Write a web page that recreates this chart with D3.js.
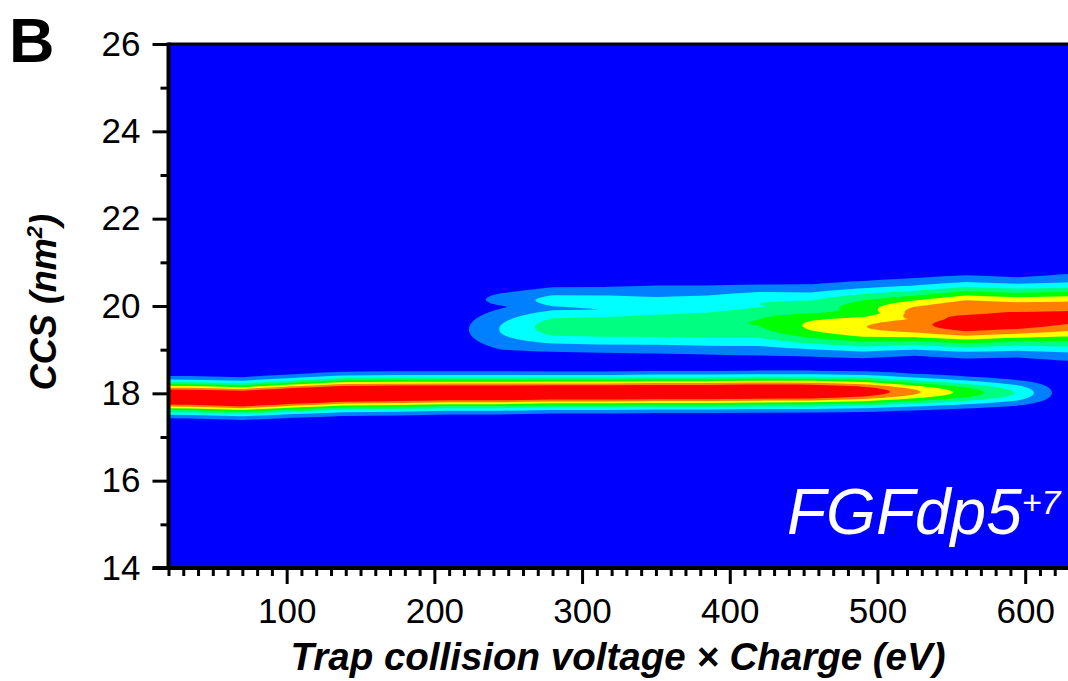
<!DOCTYPE html>
<html>
<head>
<meta charset="utf-8">
<script src="https://cdn.jsdelivr.net/npm/d3@7"></script>
<style>
	body { margin:0; background:#fff; }
	text { font-family:'Liberation Sans', Arial, sans-serif; }
</style>
</head>
<body>
<svg id="chart" width="1068" height="681"></svg>
<script>
// collision voltage x charge (eV), one column of the CIU map each
var voltages = [0,35,70,105,140,175,210,245,280,315,350,385,420,455,490,525,560,595,630]

// compact conformer (~18 nm2): centre CCS, peak height (in contour levels), width
var foldedCCS   = [17.92,17.91,17.88,17.94,17.99,18.00,18.01,18.01,18.02,18.02,18.03,18.03,18.04,18.04,18.04,18.03,18.02,18.01,18.00]
var foldedAmp   = [9.2,9.3,9.5,9.4,9.3,9.2,9.1,9.1,9.0,9.0,9.0,9.0,9.0,8.9,7.9,6.2,4.6,2.9,0]
var foldedWidth = [0.23,0.23,0.23,0.235,0.24,0.24,0.235,0.235,0.23,0.23,0.23,0.23,0.23,0.23,0.23,0.22,0.21,0.20,0.20]

// unfolded conformer (~19.6 nm2)
var c2CCS   = [19.45,19.45,19.45,19.45,19.45,19.45,19.45,19.47,19.52,19.52,19.545,19.56,19.62,19.55,19.52,19.55,19.61,19.67,19.74]
var c2Amp   = [0,0,0,0,0,0,0.35,2.05,3.5,3.6,3.7,3.85,4.05,5.2,5.95,6.6,7.8,7.8,7.3]
var c2Width = [0.3,0.3,0.3,0.3,0.3,0.3,0.3,0.39,0.36,0.37,0.39,0.41,0.45,0.39,0.38,0.355,0.40,0.42,0.50]

// upper shoulder (~20.1 nm2)
var c3CCS   = [20.15,20.15,20.15,20.15,20.15,20.15,20.15,20.15,20.12,20.08,20.02,20.02,20.05,19.95,19.95,19.83,19.92,19.92,19.95]
var c3Amp   = [0,0,0,0,0,0,0,1.4,2.3,2.4,2.3,2.5,3.0,3.4,4.5,6.4,6.9,6.6,6.5]
var c3Width = [0.2,0.2,0.2,0.2,0.2,0.2,0.2,0.17,0.24,0.27,0.35,0.33,0.30,0.35,0.36,0.42,0.40,0.38,0.38]

var levels      = [1,2,3,4,5,6,7]
var levelColors = ['#0080ff','#00ffff','#00ff80','#00ff00','#ffff00','#ff8000','#ff0000']
var xTicks      = [100,200,300,400,500,600]
var yTicks      = [14,16,18,20,22,24,26]
var ccsStep     = 0.02

var svg = d3.select('#chart')
var x = d3.scaleLinear().domain([20,630]).range([168.5,1069.5])
var y = d3.scaleLinear().domain([14,26]).range([568,44])

svg.append('defs').append('clipPath').attr('id','plotclip')
	.append('rect').attr('x',x(20)).attr('y',y(26)).attr('width',x(630)-x(20)).attr('height',y(14)-y(26))

svg.append('rect').attr('x',x(20)).attr('y',y(26))
	.attr('width',x(630)-x(20)).attr('height',y(14)-y(26)).style('fill','#0000ff')

// grid of intensities: columns = voltages, rows = CCS bins
var nx = voltages.length
var ny = Math.round((26-14)/ccsStep) + 1
var values = new Array(nx*ny)
function peak(c,mu,a,s){ return a>0 ? a*Math.exp(-(c-mu)*(c-mu)/(2*s*s)) : 0 }
for(var j=0;j<ny;j++){
	var c = 14 + j*ccsStep
	for(var i=0;i<nx;i++){
		values[j*nx+i] = Math.max(
			peak(c,foldedCCS[i],foldedAmp[i],foldedWidth[i]),
			peak(c,c2CCS[i],c2Amp[i],c2Width[i]),
			peak(c,c3CCS[i],c3Amp[i],c3Width[i]))
	}
}

var gx = d3.scaleLinear().domain([0.5,nx-0.5]).range([voltages[0],voltages[nx-1]])
var gy = d3.scaleLinear().domain([0.5,ny-0.5]).range([14,14+(ny-1)*ccsStep])
var toPx = d3.geoTransform({point:function(px,py){ this.stream.point(x(gx(px)),y(gy(py))) }})
var path = d3.geoPath(toPx)

var contours = d3.contours().size([nx,ny]).thresholds(levels)(values)
svg.append('g').attr('id','ciu').attr('clip-path','url(#plotclip)')
	.selectAll('path').data(contours).enter().append('path')
	.attr('d',path)
	.style('fill',function(d,i){ return levelColors[i] })
	.style('stroke','none')

// axes
var minorY = d3.range(15,26,2)
var minorX = d3.range(20,630,10).filter(function(v){ return v%100!=0 })

function styleAxis(g){
	g.selectAll('.domain').remove()
	g.selectAll('.tick line').style('stroke','#000').style('stroke-width',3)
	g.selectAll('text').style('font-size','35px').style('fill','#000')
}

svg.append('g').attr('transform','translate('+x(20)+',0)')
	.call(d3.axisLeft(y).tickValues(minorY).tickSize(8).tickFormat(''))
	.call(styleAxis)
svg.append('g').attr('transform','translate('+x(20)+',0)')
	.call(d3.axisLeft(y).tickValues(yTicks).tickSize(16).tickPadding(12))
	.call(styleAxis)
svg.append('g').attr('transform','translate(0,'+y(14)+')')
	.call(d3.axisBottom(x).tickValues(minorX).tickSize(8).tickFormat(''))
	.call(styleAxis)
svg.append('g').attr('transform','translate(0,'+y(14)+')')
	.call(d3.axisBottom(x).tickValues(xTicks).tickSize(16).tickPadding(14))
	.call(styleAxis)

// frame
svg.append('line').attr('x1',x(20)).attr('x2',x(20)).attr('y1',y(26)-1.5).attr('y2',y(14)+2)
	.style('stroke','#000').style('stroke-width',4)
svg.append('line').attr('x1',x(20)-16).attr('x2',1068).attr('y1',y(14)).attr('y2',y(14))
	.style('stroke','#000').style('stroke-width',4)
svg.append('line').attr('x1',x(20)).attr('x2',1068).attr('y1',y(26)).attr('y2',y(26))
	.style('stroke','#000').style('stroke-width',3)

// titles
svg.append('text').text('Trap collision voltage × Charge (eV)')
	.attr('x',618).attr('y',670).attr('text-anchor','middle')
	.style('font-size','38.5px').style('font-weight','bold').style('font-style','italic')

var yt = svg.append('text').attr('transform','translate(56,302) rotate(-90)')
	.attr('text-anchor','middle')
	.style('font-size','36px').style('font-weight','bold').style('font-style','italic')
yt.append('tspan').text('CCS (nm')
yt.append('tspan').text('2').attr('dy',-14).style('font-size','22px')
yt.append('tspan').text(')').attr('dy',14)

svg.append('text').text('B').attr('x',9).attr('y',62)
	.style('font-size','63px').style('font-weight','bold')

var lab = svg.append('text').attr('x',787).attr('y',534)
	.style('font-size','64px').style('font-style','italic').style('fill','#fff')
lab.append('tspan').text('FGFdp5')
lab.append('tspan').text('+7').attr('dy',-20).style('font-size','34px')
</script>
</body>
</html>
